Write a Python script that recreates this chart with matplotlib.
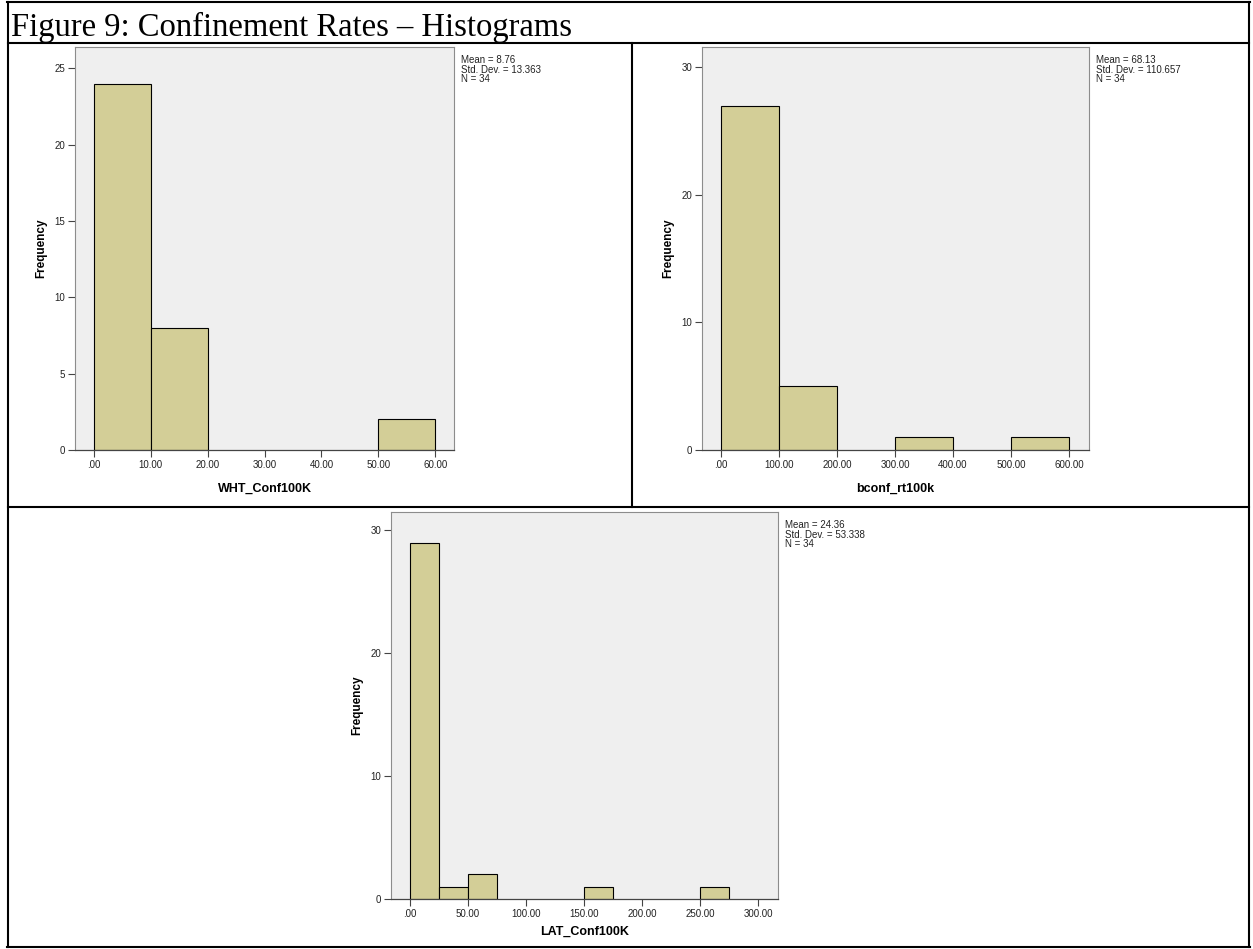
import matplotlib.pyplot as plt
from matplotlib.lines import Line2D

W, H = 1253, 949

# histogram bins (left edges) and counts
wht_left = [0, 10, 50]
wht_count = [24, 8, 2]
wht_width = 10
wht_ticks = [0, 10, 20, 30, 40, 50, 60]
wht_yticks = [0, 5, 10, 15, 20, 25]
wht_stats = ["Mean = 8.76", "Std. Dev. = 13.363", "N = 34"]

blk_left = [0, 100, 300, 500]
blk_count = [27, 5, 1, 1]
blk_width = 100
blk_ticks = [0, 100, 200, 300, 400, 500, 600]
blk_yticks = [0, 10, 20, 30]
blk_stats = ["Mean = 68.13", "Std. Dev. = 110.657", "N = 34"]

lat_left = [0, 25, 50, 150, 250]
lat_count = [29, 1, 2, 1, 1]
lat_width = 25
lat_ticks = [0, 50, 100, 150, 200, 250, 300]
lat_yticks = [0, 10, 20, 30]
lat_stats = ["Mean = 24.36", "Std. Dev. = 53.338", "N = 34"]

BAR = "#d3ce97"
BG = "#efefef"
FONT = ["Liberation Sans", "DejaVu Sans"]

fig = plt.figure(figsize=(W / 100, H / 100), dpi=100)
fig.patch.set_facecolor("white")


def px_axes(x0, y0, x1, y1):
    return fig.add_axes([x0 / W, 1 - y1 / H, (x1 - x0) / W, (y1 - y0) / H])


def tick_fmt(v):
    return ".00" if v == 0 else f"{v:.2f}"


def histogram(box, lefts, counts, width, xlim, ylim, xticks, yticks, xlabel,
              stats, xlabel_y, ylabel_x):
    ax = px_axes(*box)
    ax.set_facecolor(BG)
    ax.bar(lefts, counts, width=width, align="edge", color=BAR,
           edgecolor="black", linewidth=0.8, zorder=2)
    ax.set_xlim(*xlim)
    ax.set_ylim(*ylim)
    ax.set_xticks(xticks)
    ax.set_xticklabels([tick_fmt(v) for v in xticks], family=FONT,
                       fontsize=7, color="#222222")
    ax.set_yticks(yticks)
    ax.set_yticklabels([str(v) for v in yticks], family=FONT,
                       fontsize=7, color="#222222")
    ax.tick_params(direction="out", length=5, width=0.8, color="#444444",
                   pad=2)
    for side in ["top", "right", "left"]:
        ax.spines[side].set_color("#8c8c8c")
        ax.spines[side].set_linewidth(0.8)
    ax.spines["bottom"].set_color("#444444")
    ax.spines["bottom"].set_linewidth(0.9)
    cx = (box[0] + box[2]) / 2
    fig.text(cx / W, 1 - xlabel_y / H, xlabel, family=FONT, fontsize=9,
             fontweight="bold", ha="center", va="center")
    cy = (box[1] + box[3]) / 2
    fig.text(ylabel_x / W, 1 - cy / H, "Frequency", family=FONT, fontsize=8.5,
             fontweight="bold", ha="center", va="center", rotation=90)
    fig.text((box[2] + 7) / W, 1 - (box[1] + 8) / H, "\n".join(stats),
             family=FONT, fontsize=7, va="top", ha="left", linespacing=0.95,
             color="#222222")
    return ax


histogram((75, 47, 454, 450), wht_left, wht_count, wht_width,
          (-3.3, 63.3), (0, 26.4), wht_ticks, wht_yticks, "WHT_Conf100K",
          wht_stats, 489, 41)
histogram((702, 47, 1089, 450), blk_left, blk_count, blk_width,
          (-32.8, 634.5), (0, 31.6), blk_ticks, blk_yticks, "bconf_rt100k",
          blk_stats, 489, 668)
histogram((391, 512, 778, 899), lat_left, lat_count, lat_width,
          (-16.4, 317), (0, 31.5), lat_ticks, lat_yticks, "LAT_Conf100K",
          lat_stats, 932, 357)

# document table around the charts
fig.text(11 / W, 1 - 27 / H, "Figure 9: Confinement Rates \u2013 Histograms",
         family=["Liberation Serif", "DejaVu Serif"], fontsize=23.5,
         ha="left", va="center")


def rule(x0, y0, x1, y1, lw=1.5):
    fig.add_artist(Line2D([x0 / W, x1 / W], [1 - y0 / H, 1 - y1 / H],
                          color="black", linewidth=lw,
                          transform=fig.transFigure))


rule(7, 2, 1250, 2)
rule(8, 2, 8, 947)
rule(1249, 2, 1249, 947)
rule(7, 947, 1250, 947)
rule(8, 43, 1249, 43)
rule(8, 507, 1249, 507)
rule(632, 43, 632, 507)

fig.savefig("out.png", dpi=100)
